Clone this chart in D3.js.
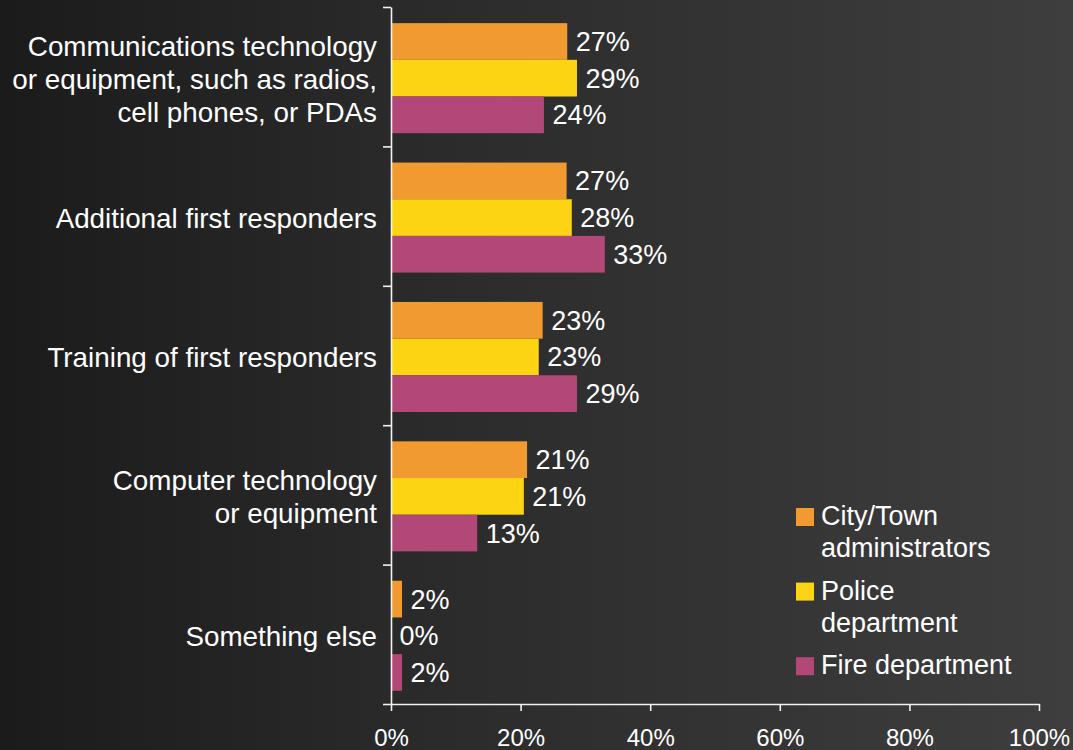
<!DOCTYPE html>
<html lang="en">
    <head>
        <title>Priorities by department</title>
        <meta charset="utf-8">
        <script src="https://d3js.org/d3.v7.min.js"></script>
        <style>
            body {
                margin: 0;
                padding: 0;
                background-color: #1c1c1c;
                overflow: hidden;
            }
            svg text {
                font-family: "Liberation Sans", Arial, sans-serif;
                fill: white;
            }
        </style>
    </head>
    <body>
    <div id="container"></div>
    <script>

        const categories = [
            ["Communications technology", "or equipment, such as radios,", "cell phones, or PDAs"],
            ["Additional first responders"],
            ["Training of first responders"],
            ["Computer technology", "or equipment"],
            ["Something else"]
        ];
        const seriesNames = ["City/Town administrators", "Police department", "Fire department"];
        const legendLines = [["City/Town", "administrators"], ["Police", "department"], ["Fire department"]];
        const seriesColors = ["#f09a2f", "#fdd413", "#b24878"];

        const cityValues = [27.2, 27.1, 23.4, 21.0, 1.7];
        const policeValues = [28.7, 27.9, 22.8, 20.5, 0];
        const fireValues = [23.6, 33.0, 28.7, 13.3, 1.7];

        const cityLabels = ["27%", "27%", "23%", "21%", "2%"];
        const policeLabels = ["29%", "28%", "23%", "21%", "0%"];
        const fireLabels = ["24%", "33%", "29%", "13%", "2%"];

        const xTicks = [0, 20, 40, 60, 80, 100];

        const w = 1073;
        const h = 750;
        const plotLeft = 391, plotRight = 1039, plotTop = 7, plotBottom = 704;

        const series = [
            { values: cityValues, labels: cityLabels },
            { values: policeValues, labels: policeLabels },
            { values: fireValues, labels: fireLabels }
        ];

        const svg = d3.select("#container")
            .append("svg")
            .attr("width", w)
            .attr("height", h);

        // background gradient
        const grad = svg.append("defs").append("linearGradient")
            .attr("id", "bg")
            .attr("x1", "0%").attr("x2", "100%")
            .attr("y1", "0%").attr("y2", "0%");
        grad.append("stop").attr("offset", "0%").attr("stop-color", "#1b1b1b");
        grad.append("stop").attr("offset", "35%").attr("stop-color", "#292929");
        grad.append("stop").attr("offset", "100%").attr("stop-color", "#3e3e3e");
        svg.append("rect")
            .attr("width", w)
            .attr("height", h)
            .attr("fill", "url(#bg)");

        const xScale = d3.scaleLinear()
            .domain([0, 100])
            .range([plotLeft, plotRight]);

        const yScale = d3.scaleBand()
            .domain(d3.range(categories.length))
            .range([plotTop, plotBottom])
            .padding(0);

        const ySub = d3.scaleBand()
            .domain(d3.range(series.length))
            .range([0, yScale.bandwidth()])
            .paddingInner(0)
            .paddingOuter(0.4)
            .align(0.55);

        const groups = svg.selectAll("g.group")
            .data(categories)
            .enter()
            .append("g")
            .attr("class", "group")
            .attr("transform", (d, i) => `translate(0, ${yScale(i)})`);

        groups.each(function(cat, ci) {
            const g = d3.select(this);
            const rows = series.map((s, si) => ({ si: si, v: s.values[ci], label: s.labels[ci] }));

            g.selectAll("rect")
                .data(rows)
                .enter()
                .append("rect")
                .attr("x", xScale(0))
                .attr("y", d => ySub(d.si))
                .attr("width", d => xScale(d.v) - xScale(0))
                .attr("height", ySub.bandwidth())
                .attr("fill", d => seriesColors[d.si]);

            g.selectAll("text.value")
                .data(rows)
                .enter()
                .append("text")
                .attr("class", "value")
                .attr("x", d => xScale(d.v) + 8.5)
                .attr("y", d => ySub(d.si) + ySub.bandwidth() / 2 + 9.5)
                .attr("font-size", 27)
                .text(d => d.label);

            // category label, possibly multi-line
            const lineH = 33;
            const mid = yScale.bandwidth() / 2 + 12;
            g.append("text")
                .attr("text-anchor", "end")
                .attr("font-size", 27.8)
                .selectAll("tspan")
                .data(cat)
                .enter()
                .append("tspan")
                .attr("x", plotLeft - 14)
                .attr("y", (d, i) => mid + (i - (cat.length - 1) / 2) * lineH)
                .text(d => d);
        });

        // y axis with ticks at category boundaries
        const yEdges = d3.scaleLinear()
            .domain([0, categories.length])
            .range([plotTop, plotBottom]);
        svg.append("g")
            .attr("transform", `translate(${plotLeft}, 0)`)
            .call(d3.axisLeft(yEdges).ticks(categories.length).tickFormat("").tickSize(8).tickSizeOuter(0))
            .call(g => g.selectAll("line, path").attr("stroke", "#f2f2f2").attr("stroke-width", 1.6));

        const xAxis = d3.axisBottom(xScale)
            .tickValues(xTicks)
            .tickFormat(d => d + "%")
            .tickSize(7)
            .tickSizeOuter(0);

        svg.append("g")
            .attr("transform", `translate(0, ${plotBottom})`)
            .call(xAxis)
            .call(g => g.selectAll("line, path").attr("stroke", "#f2f2f2").attr("stroke-width", 1.6))
            .call(g => g.selectAll("text")
                .attr("font-size", 24)
                .attr("fill", "white")
                .attr("dy", null)
                .attr("y", 42));

        // legend
        const legend = svg.append("g")
            .attr("transform", "translate(796, 525)");

        const entry = legend.selectAll("g")
            .data(seriesNames)
            .enter()
            .append("g")
            .attr("transform", (d, i) => `translate(0, ${i * 74.6})`);

        entry.append("rect")
            .attr("x", 0)
            .attr("y", -17)
            .attr("width", 18)
            .attr("height", 18)
            .attr("fill", (d, i) => seriesColors[i]);

        entry.append("text")
            .attr("font-size", 27)
            .selectAll("tspan")
            .data((d, i) => legendLines[i])
            .enter()
            .append("tspan")
            .attr("x", 25)
            .attr("y", (d, i) => i * 32)
            .text(d => d);

    </script>
    </body>
</html>
